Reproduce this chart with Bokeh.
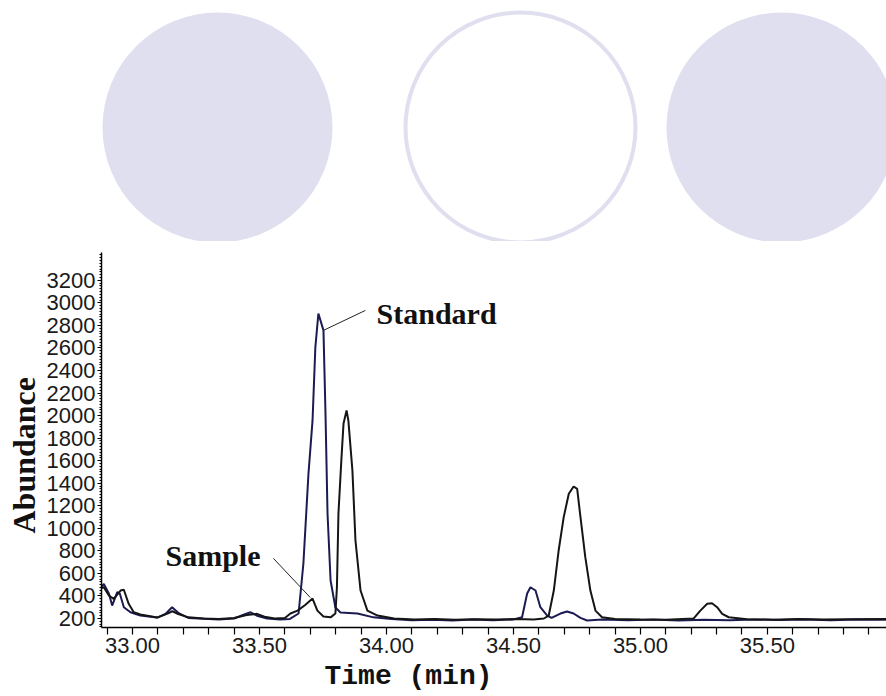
import math
from bokeh.plotting import figure
from bokeh.models import Range1d, FixedTicker, Label, ColumnDataSource, Title
from bokeh.layouts import column
from bokeh.embed import file_html
from bokeh.resources import INLINE

# ---------------- data ----------------
std_t = [32.878, 32.887, 32.907, 32.920, 32.940, 32.950, 32.966, 32.992, 33.031, 33.097,
         33.130, 33.156, 33.180, 33.220, 33.280, 33.340, 33.400, 33.440, 33.465, 33.490,
         33.530, 33.580, 33.620, 33.654, 33.673, 33.693, 33.709, 33.720, 33.732, 33.752,
         33.760, 33.768, 33.780, 33.799, 33.819, 33.886, 33.949, 34.020, 34.100, 34.180,
         34.260, 34.340, 34.420, 34.500, 34.534, 34.554, 34.567, 34.587, 34.606, 34.633,
         34.650, 34.685, 34.711, 34.737, 34.764, 34.790, 34.850, 34.950, 35.050, 35.150,
         35.250, 35.350, 35.450, 35.550, 35.650, 35.750, 35.850, 35.969]
std_v = [480, 507, 421, 315, 433, 421, 300, 255, 226, 208,
         240, 300, 250, 205, 198, 190, 200, 235, 255, 225,
         200, 192, 196, 244, 688, 1486, 1957, 2604, 2906, 2756,
         2019, 1131, 537, 297, 253, 244, 210, 195, 185, 188,
         182, 190, 184, 192, 211, 421, 477, 448, 300, 226,
         205, 244, 262, 244, 205, 182, 190, 185, 192, 183,
         188, 185, 192, 186, 190, 184, 191, 188]

smp_t = [32.878, 32.887, 32.907, 32.926, 32.953, 32.966, 32.985, 33.005, 33.031, 33.097,
         33.140, 33.157, 33.180, 33.220, 33.280, 33.340, 33.400, 33.450, 33.490, 33.520,
         33.560, 33.600, 33.622, 33.650, 33.680, 33.709, 33.728, 33.752, 33.780, 33.799,
         33.805, 33.811, 33.823, 33.831, 33.843, 33.850, 33.866, 33.878, 33.898, 33.925,
         33.965, 34.030, 34.110, 34.190, 34.270, 34.350, 34.430, 34.510, 34.580, 34.620,
         34.639, 34.659, 34.678, 34.698, 34.718, 34.737, 34.751, 34.764, 34.783, 34.803,
         34.823, 34.849, 34.900, 35.000, 35.100, 35.210, 35.236, 35.263, 35.282, 35.302,
         35.322, 35.348, 35.420, 35.520, 35.620, 35.720, 35.820, 35.969]
smp_v = [470, 477, 404, 374, 448, 455, 330, 255, 236, 208,
         245, 264, 240, 210, 200, 195, 205, 230, 241, 215,
         200, 205, 244, 270, 320, 377, 270, 217, 210, 244,
         475, 1131, 1628, 1930, 2045, 1957, 1513, 892, 448, 270,
         226, 200, 192, 196, 188, 194, 190, 195, 192, 200,
         226, 448, 803, 1099, 1306, 1371, 1350, 1099, 744, 448,
         270, 211, 195, 190, 188, 200, 270, 330, 335, 300,
         241, 211, 194, 189, 196, 190, 193, 195]

x_ticks = [33.0, 33.5, 34.0, 34.5, 35.0, 35.5]
x_tick_labels = ["33.00", "33.50", "34.00", "34.50", "35.00", "35.50"]
y_ticks = [200, 400, 600, 800, 1000, 1200, 1400, 1600, 1800, 2000,
           2200, 2400, 2600, 2800, 3000, 3200]
y_tick_labels = ["200", "400", "600", "800", "1000", "1200", "1400", "1600", "1800", "2000",
                 "2200", "2400", "2600", "2800", "3000", "3200"]

series_names = ["Standard", "Sample"]
axis_title_x = "Time (min)"
axis_title_y = "Abundance"

assert len(std_t) == len(std_v) and len(smp_t) == len(smp_v)

W = 886
LEFT = 101

# ---------------- decorative circles (top) ----------------
top = figure(width=W, height=241, output_backend="svg", toolbar_location=None,
             x_range=Range1d(LEFT, W), y_range=Range1d(241, 0),
             min_border_left=LEFT, min_border_right=0, min_border_top=0, min_border_bottom=0,
             outline_line_color=None, background_fill_color="white",
             border_fill_color="white")
top.axis.visible = False
top.grid.visible = False
lav = "#DFDFEF"
top.circle(x=[217, 781], y=[127, 127], radius=115, fill_color=lav, line_color=None)
top.circle(x=[520], y=[127], radius=115, fill_color="white", line_color=lav, line_width=4)

# ---------------- main chromatogram ----------------
p = figure(width=W, height=455, output_backend="svg", toolbar_location=None,
           x_range=Range1d(32.878, 35.969), y_range=Range1d(120, 3447),
           min_border_left=LEFT, min_border_right=0, min_border_top=11, min_border_bottom=69,
           outline_line_color=None, background_fill_color="white", border_fill_color="white")
p.grid.visible = False

p.line(std_t, std_v, line_color="#1b1b52", line_width=2)
p.line(smp_t, smp_v, line_color="#151515", line_width=2)

# x axis
x_minor = [round(32.9 + 0.1 * i, 1) for i in range(31)]
x_minor = [v for v in x_minor if v not in x_ticks]
p.xaxis.ticker = FixedTicker(ticks=x_ticks, minor_ticks=x_minor)
p.xaxis.major_label_overrides = {t: s for t, s in zip(x_ticks, x_tick_labels)}
p.xaxis.major_tick_out = 7
p.xaxis.major_tick_in = 0
p.xaxis.minor_tick_out = 7
p.xaxis.minor_tick_in = 0
p.xaxis.major_label_standoff = 3
p.xaxis.axis_line_width = 1.5
p.xaxis.major_tick_line_width = 1.2
p.xaxis.minor_tick_line_width = 1.2

# y axis
y_minor = [125 + 25 * i for i in range(133)]
y_minor = [v for v in y_minor if v not in y_ticks]
p.yaxis.ticker = FixedTicker(ticks=y_ticks, minor_ticks=y_minor)
p.yaxis.major_label_overrides = {t: s for t, s in zip(y_ticks, y_tick_labels)}
p.yaxis.major_tick_out = 4
p.yaxis.major_tick_in = 0
p.yaxis.minor_tick_out = 2
p.yaxis.minor_tick_in = 0
p.yaxis.major_label_standoff = 2
p.yaxis.axis_line_width = 1.5

for ax in (p.xaxis, p.yaxis):
    ax.axis_line_color = "black"
    ax.major_tick_line_color = "black"
    ax.minor_tick_line_color = "black"
    ax.major_label_text_font = "Liberation Sans"
    ax.major_label_text_font_size = "22px"
    ax.major_label_text_color = "#1a1a1a"
    ax.axis_label = None

# axis titles as side titles (offset along the side)
p.add_layout(Title(text=axis_title_x, align="left", offset=223, standoff=6,
                   text_font="Liberation Mono", text_font_style="bold",
                   text_font_size="28px", text_color="#111111"), "below")
p.add_layout(Title(text=axis_title_y, align="left", offset=94, standoff=4,
                   text_font="Liberation Serif", text_font_style="bold",
                   text_font_size="32px", text_color="#111111"), "left")

# annotations with leader lines
lead = ColumnDataSource(dict(x0=[33.752, 33.555], y0=[2756, 733],
                             x1=[33.917, 33.700], y1=[2933, 386]))
p.segment(x0="x0", y0="y0", x1="x1", y1="y1", source=lead, line_color="#222222", line_width=1)
p.add_layout(Label(x=33.961, y=2906, text=series_names[0], text_align="left",
                   text_baseline="alphabetic", text_font="Liberation Serif",
                   text_font_style="bold", text_font_size="30px", text_color="#111111"))
p.add_layout(Label(x=33.130, y=759, text=series_names[1], text_align="left",
                   text_baseline="alphabetic", text_font="Liberation Serif",
                   text_font_style="bold", text_font_size="30px", text_color="#111111"))

layout = column(top, p, spacing=0)
open("out.html", "w").write(file_html(layout, INLINE))
